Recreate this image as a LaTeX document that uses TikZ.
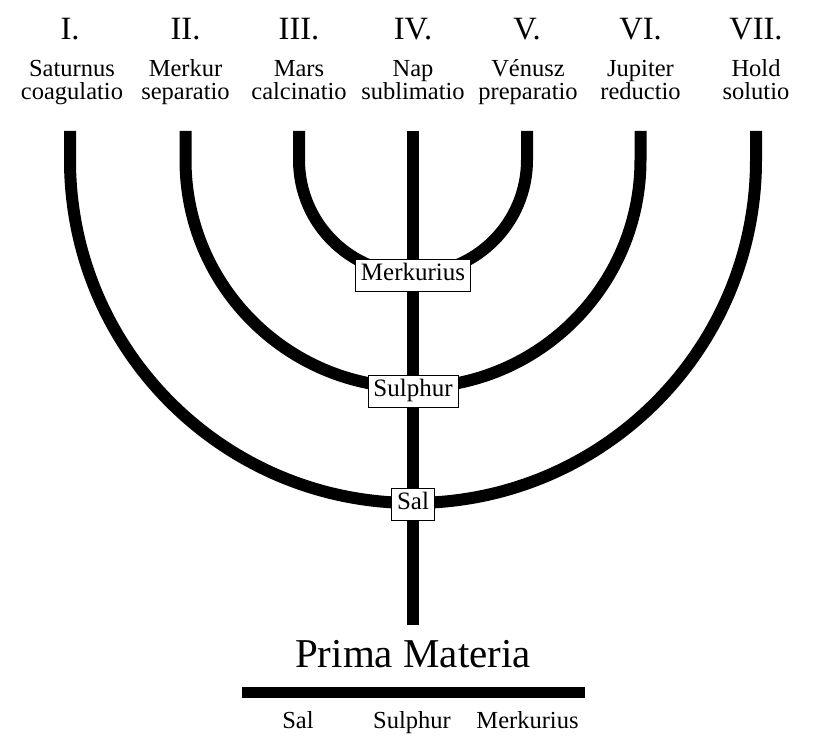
\documentclass[tikz,border=0pt]{standalone}
\usepackage{fontspec}
\setmainfont{Liberation Serif}
\begin{document}
\begin{tikzpicture}[x=1pt,y=-1pt,
  bar/.style={line width=12pt, line cap=butt, line join=round},
  lbl/.style={font=\fontsize{24.5}{25}\selectfont, anchor=base, inner sep=0pt},
  num/.style={font=\fontsize{32.5}{33}\selectfont, anchor=base, inner sep=0pt},
  big/.style={font=\fontsize{41}{41}\selectfont, anchor=base, inner sep=0pt},
  boxlbl/.style={draw, line width=0.8pt, fill=white, font=\fontsize{25}{26}\selectfont,
    inner xsep=5.5pt, inner ysep=0pt, text height=17pt, text depth=6pt, minimum height=32pt}]
\useasboundingbox[fill=white] (0,0) rectangle (817,751);

% top labels
\node[num] (n1) at (70,40) {I.};
\node[num] (n2) at (185.5,40) {II.};
\node[num] (n3) at (299,40) {III.};
\node[num] (n4) at (413,40) {IV.};
\node[num] (n5) at (527,40) {V.};
\node[num] (n6) at (640.5,40) {VI.};
\node[num] (n7) at (756,40) {VII.};

\node[lbl] (a1) at (72,77) {Saturnus};
\node[lbl] (b1) at (72,100) {coagulatio};
\node[lbl] (a2) at (185.5,77) {Merkur};
\node[lbl] (b2) at (185.5,100) {separatio};
\node[lbl] (a3) at (299,77) {Mars};
\node[lbl] (b3) at (299,100) {calcinatio};
\node[lbl] (a4) at (413,77) {Nap};
\node[lbl] (b4) at (413,100) {sublimatio};
\node[lbl] (a5) at (528,77) {Vénusz};
\node[lbl] (b5) at (528,100) {preparatio};
\node[lbl] (a6) at (640.5,77) {Jupiter};
\node[lbl] (b6) at (640.5,100) {reductio};
\node[lbl] (a7) at (756,77) {Hold};
\node[lbl] (b7) at (756,100) {solutio};

% top ends of the branches
\coordinate (t1) at (70,131);
\coordinate (t2) at (185.5,131);
\coordinate (t3) at (299,131);
\coordinate (t4) at (413,131);
\coordinate (t5) at (527,131);
\coordinate (t6) at (640.5,131);
\coordinate (t7) at (756,131);
\coordinate (stem) at (413,625);

% branches
\draw[bar] (t1) -- (70,160) arc[start angle=180, end angle=0, radius=343] -- (t7);
\draw[bar] (t2) -- (185.5,160) arc[start angle=180, end angle=0, radius=227.5] -- (t6);
\draw[bar] (t3) -- (299,160) arc[start angle=180, end angle=0, radius=114] -- (t5);
\draw[bar] (t4) -- (stem);

% junction boxes
\node[boxlbl] (bm) at (413,275) {Merkurius};
\node[boxlbl] (bs) at (413,391) {Sulphur};
\node[boxlbl] (bsal) at (413,504) {Sal};

% bottom
\node[big] (pm) at (413,667) {Prima Materia};
\coordinate (barL) at (242,692.5);
\coordinate (barR) at (585,692.5);
\draw[line width=11pt] (barL) -- (barR);
\node[lbl] (s1) at (298,728) {Sal};
\node[lbl] (s2) at (412,728) {Sulphur};
\node[lbl] (s3) at (527.5,728) {Merkurius};
\end{tikzpicture}
\end{document}
